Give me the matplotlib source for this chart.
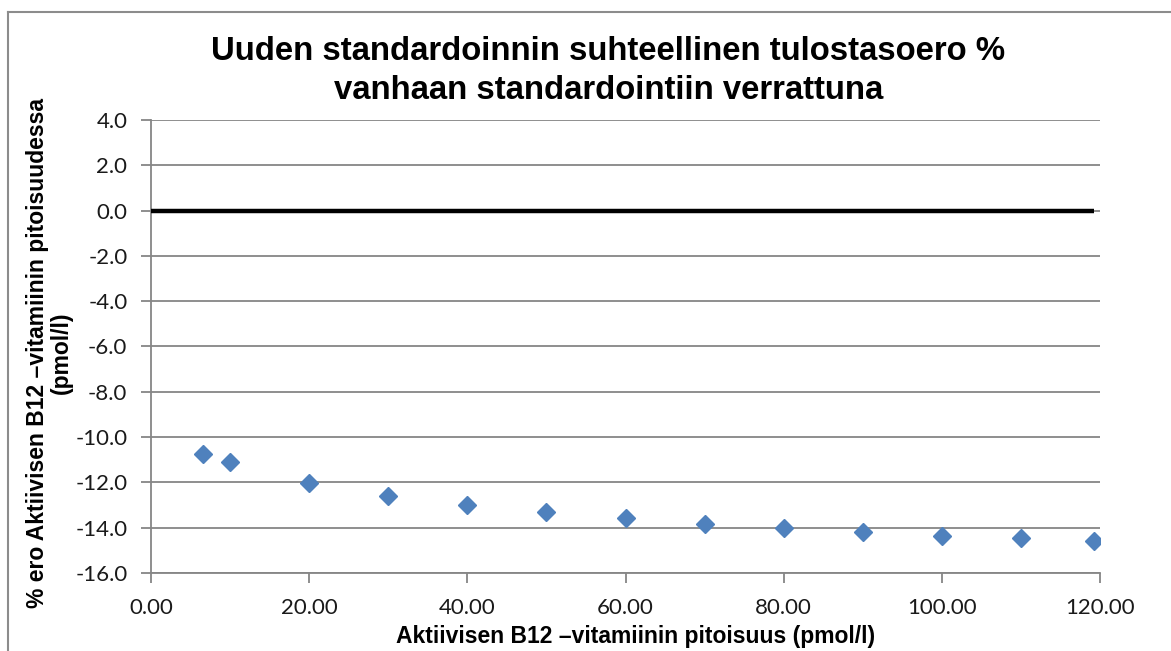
import matplotlib.pyplot as plt
from matplotlib.ticker import FormatStrFormatter, MultipleLocator
from matplotlib.lines import Line2D

# data
conc = [6.6, 10, 20, 30, 40, 50, 60, 70, 80, 90, 100, 110, 119.3]
diff_pct = [-10.75, -11.08, -12.03, -12.58, -13.0, -13.3, -13.58, -13.82,
            -14.03, -14.2, -14.35, -14.47, -14.58]
ref_x = [0, 119.3]
ref_y = [0, 0]

title = 'Uuden standardoinnin suhteellinen tulostasoero %\nvanhaan standardointiin verrattuna'
xlabel = 'Aktiivisen B12 \u2013vitamiinin pitoisuus (pmol/l)'
ylabel = '% ero Aktiivisen B12 \u2013vitamiinin pitoisuudessa\n(pmol/l)'

grey = '#868686'

fig = plt.figure(figsize=(11.71, 6.51), dpi=100)
ax = fig.add_axes([151 / 1171, 1 - 573 / 651, 949 / 1171, 453 / 651])

ax.plot(ref_x, ref_y, color='black', lw=3.2, solid_capstyle='butt', zorder=3)
ax.plot(conc, diff_pct, ls='none', marker='D', ms=9.5, color='#4f81bd',
        mec='#4f81bd', zorder=4)

ax.set_xlim(0, 120)
ax.set_ylim(-16, 4)
ax.xaxis.set_major_locator(MultipleLocator(20))
ax.yaxis.set_major_locator(MultipleLocator(2))
ax.xaxis.set_major_formatter(FormatStrFormatter('%.2f'))
ax.yaxis.set_major_formatter(FormatStrFormatter('%.1f'))

ax.grid(axis='y', color=grey, lw=1.3)
ax.set_axisbelow(True)
for s in ['top', 'right']:
    ax.spines[s].set_visible(False)
for s in ['left', 'bottom']:
    ax.spines[s].set_color(grey)
    ax.spines[s].set_linewidth(1.3)

ax.tick_params(axis='both', color=grey, width=1.3, length=7, labelsize=16,
               labelcolor='#1a1a1a')
ax.tick_params(axis='x', pad=11)
ax.tick_params(axis='y', pad=10)
for lab in ax.get_xticklabels() + ax.get_yticklabels():
    lab.set_family(['Lato', 'DejaVu Sans'])

ax.set_xlabel(xlabel, family='Liberation Sans', fontweight='bold', fontsize=16.5,
              va='center')
ax.xaxis.set_label_coords(0.511, -0.141)
ax.set_ylabel(ylabel, family='Liberation Sans', fontweight='bold', fontsize=16.5,
              va='center', linespacing=1.05)
ax.yaxis.set_label_coords(-0.107, 0.486)
fig.text(0.5195, 0.891, title, ha='center', va='center', family='Liberation Sans',
         fontweight='bold', fontsize=23.7, linespacing=1.3)

# outer chart frame (left and top edges visible)
fig.add_artist(Line2D([8 / 1171, 8 / 1171], [0, 1 - 12 / 651], color='#8c8c8c',
                      lw=1.5, transform=fig.transFigure))
fig.add_artist(Line2D([8 / 1171, 1], [1 - 12 / 651, 1 - 12 / 651], color='#8c8c8c',
                      lw=1.5, transform=fig.transFigure))

fig.savefig('out.png', dpi=100)
